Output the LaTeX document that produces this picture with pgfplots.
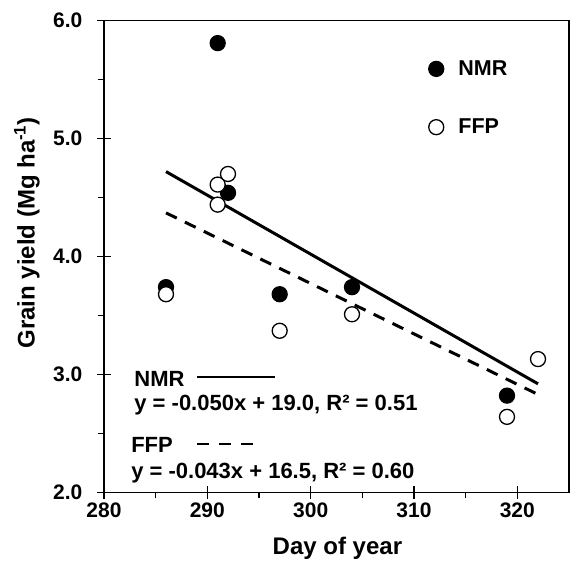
\documentclass[border=0pt]{standalone}
\usepackage{fontspec}
\setmainfont{Liberation Sans}
\usepackage{pgfplots}
\pgfplotsset{compat=1.18}

% day of year, grain yield (Mg/ha)
\pgfplotstableread{
x y
286 3.74
291 5.81
292 4.54
297 3.68
304 3.74
319 2.82
}\nmr
\pgfplotstableread{
x y
286 3.68
291 4.61
291 4.44
292 4.70
297 3.37
304 3.51
319 2.64
322 3.13
}\ffp

\begin{document}
\begin{tikzpicture}
\begin{axis}[
    scale only axis,
    width=465pt, height=471.6pt,
    xmin=280, xmax=325,
    ymin=2, ymax=6,
    xtick={280,290,...,320},
    ytick={2,3,...,6},
    minor x tick num=1,
    minor y tick num=1,
    xtick pos=left, ytick pos=left,
    tick align=center,
    major tick length=13pt,
    minor tick length=6pt,
    minor x tick style={yshift=-3pt},
    minor y tick style={xshift=-3pt},
    tick style={black, line width=1.2pt},
    axis line style={line width=1.2pt},
    /pgf/number format/assume math mode=true,
    yticklabel={\pgfmathprintnumber[fixed,fixed zerofill,precision=1]{\tick}},
    xticklabel style={font=\fontsize{21}{24}\selectfont\bfseries},
    yticklabel style={font=\fontsize{21}{24}\selectfont\bfseries, inner sep=0pt, xshift=-15pt},
    xlabel={Day of year},
    ylabel={Grain yield (Mg ha\textsuperscript{-1})},
    label style={font=\fontsize{24}{28}\selectfont\bfseries},
    xlabel style={at={(axis description cs:0.502,-0.119)}, anchor=center},
    ylabel style={at={(axis description cs:-0.166,0.55)}, anchor=center, rotate=0},
    legend image code/.code={
        \draw[#1] plot coordinates {(0pt,0pt)};
        \path (-8pt,0pt) (20pt,0pt);
    },
    legend style={draw=none, fill=none, at={(0.69,0.924)}, anchor=north west,
        font=\fontsize{21.5}{24}\selectfont\bfseries, row sep=38pt},
    legend cell align=left,
    clip=false,
]
\addplot[only marks, mark=*, mark size=7.5pt, mark options={draw=black, fill=black, line width=1.3pt}]
    table[x=x, y=y] {\nmr};
\addlegendentry{NMR}
\addplot[only marks, mark=*, mark size=7.5pt, mark options={draw=black, fill=white, line width=1.3pt}]
    table[x=x, y=y] {\ffp};
\addlegendentry{FFP}
% fitted lines
\addplot[black, line width=3pt, forget plot] coordinates {(286,4.72) (322,2.92)};
\addplot[black, line width=3pt, dash pattern=on 12pt off 9pt, forget plot] coordinates {(286,4.37) (322,2.83)};

\node[anchor=west, font=\fontsize{22}{26}\selectfont\bfseries] at (axis cs:282.6,2.96) {NMR};
\draw[line width=2.5pt] (axis cs:289.0,2.98) -- (axis cs:296.5,2.98);
\node[anchor=west, font=\fontsize{22}{26}\selectfont\bfseries] at (axis cs:282.6,2.74) {y = -0.050x + 19.0, R² = 0.51};
\node[anchor=west, font=\fontsize{22}{26}\selectfont\bfseries] at (axis cs:282.3,2.40) {FFP};
\draw[line width=2.5pt, dash pattern=on 12pt off 10pt] (axis cs:289.0,2.41) -- (axis cs:294.4,2.41);
\node[anchor=west, font=\fontsize{22}{26}\selectfont\bfseries] at (axis cs:282.3,2.16) {y = -0.043x + 16.5, R² = 0.60};

\coordinate (tl) at (rel axis cs:0,1);
\coordinate (br) at (rel axis cs:1,0);
\end{axis}
\pgfresetboundingbox
\path ([shift={(-104pt,20.7pt)}]tl) rectangle ([shift={(2pt,-68.7pt)}]br);
\end{tikzpicture}
\end{document}
